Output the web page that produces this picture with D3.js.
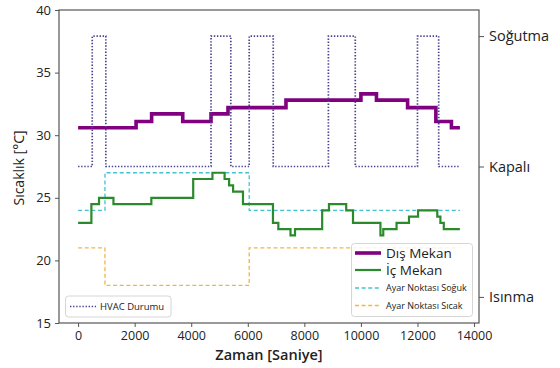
<!DOCTYPE html>
<html>
<head>
<meta charset="utf-8">
<script src="https://cdn.jsdelivr.net/npm/d3@7"></script>
<style>
  html, body { margin: 0; padding: 0; background: #fff; }
  svg text { font-family: "Open Sans", "Noto Sans", sans-serif; fill: #222; }
</style>
</head>
<body>
<svg id="chart" width="560" height="368"></svg>
<script>
// Step series: each value holds from its time until the next time (seconds)
const outdoorTimes  = [0, 2050, 2600, 3700, 4700, 5300, 7350, 10000, 10550, 11650, 12650, 13200, 13500];
const outdoorTemps  = [30.6, 31.1, 31.7, 31.1, 31.7, 32.2, 32.8, 33.3, 32.8, 32.2, 31.1, 30.6, 30.6];

const indoorTimes   = [0, 470, 740, 1250, 2590, 4070, 4750, 5180, 5340, 5480, 5830, 6890, 7080, 7510, 7670,
                       8630, 8870, 9480, 9720, 10690, 10790, 11260, 11700, 12020, 12700, 12810, 12930, 13500];
const indoorTemps   = [23.0, 24.5, 25.0, 24.5, 25.0, 26.5, 27.0, 26.5, 26.0, 25.5, 24.5, 23.0, 22.5, 22.0, 22.5,
                       24.0, 24.5, 24.0, 23.0, 22.0, 22.5, 23.0, 23.5, 24.0, 23.5, 23.0, 22.5, 22.5];

const coolSetTimes  = [0, 950, 6050, 13500];
const coolSetTemps  = [24, 27, 24, 24];
const heatSetTimes  = [0, 950, 6050, 13500];
const heatSetTemps  = [21, 18, 21, 21];

// HVAC mode: 0 = Kapalı, 1 = Soğutma, -1 = Isınma
const hvacTimes     = [0, 500, 980, 4700, 5400, 6050, 6900, 8850, 9800, 12000, 12750, 13500];
const hvacModes     = [0, 1, 0, 1, 0, 1, 0, 1, 0, 1, 0, 0];

const xTicks        = [0, 2000, 4000, 6000, 8000, 10000, 12000, 14000];
const yTicks        = [15, 20, 25, 30, 35, 40];
const modeTicks     = [-1, 0, 1];
const modeLabels    = ["Isınma", "Kapalı", "Soğutma"];

const legendMain    = ["Dış Mekan", "İç Mekan", "Ayar Noktası Soğuk", "Ayar Noktası Sıcak"];
const legendHvac    = "HVAC Durumu";
const xLabel        = "Zaman [Saniye]";
const yLabel        = "Sıcaklık [°C]";

const colors = { outdoor: "#800080", indoor: "#2b8a2b", cool: "#45c1d2", heat: "#f3b640", hvac: "#4a4290", axis: "#555" };

const svg = d3.select("#chart");
const plot = { left: 59, right: 479, top: 10, bottom: 323 };

const x = d3.scaleLinear().domain([-675, 14175]).range([plot.left, plot.right]);
const y = d3.scaleLinear().domain([15, 40]).range([plot.bottom, plot.top]);
const yMode = d3.scaleLinear().domain([-1.2, 1.2]).range([plot.bottom, plot.top]);

const zip = (ts, vs) => ts.map((t, i) => [t, vs[i]]);
const stepLine = (ys) => d3.line().x(d => x(d[0])).y(d => ys(d[1])).curve(d3.curveStepAfter);

// Series
const g = svg.append("g");
g.append("path").datum(zip(coolSetTimes, coolSetTemps))
  .attr("d", stepLine(y)).attr("fill", "none")
  .attr("stroke", colors.cool).attr("stroke-width", 1.3).attr("stroke-dasharray", "4,2.6");
g.append("path").datum(zip(heatSetTimes, heatSetTemps))
  .attr("d", stepLine(y)).attr("fill", "none")
  .attr("stroke", colors.heat).attr("stroke-width", 1.3).attr("stroke-dasharray", "4,2.6");
g.append("path").datum(zip(indoorTimes, indoorTemps))
  .attr("d", stepLine(y)).attr("fill", "none")
  .attr("stroke", colors.indoor).attr("stroke-width", 2.2);
g.append("path").datum(zip(outdoorTimes, outdoorTemps))
  .attr("d", stepLine(y)).attr("fill", "none")
  .attr("stroke", colors.outdoor).attr("stroke-width", 3.6);
g.append("path").datum(zip(hvacTimes, hvacModes))
  .attr("d", stepLine(yMode)).attr("fill", "none")
  .attr("stroke", colors.hvac).attr("stroke-width", 1.7).attr("stroke-dasharray", "1.4,1.7");

// Frame
svg.append("rect")
  .attr("x", plot.left).attr("y", plot.top)
  .attr("width", plot.right - plot.left).attr("height", plot.bottom - plot.top)
  .attr("fill", "none").attr("stroke", colors.axis).attr("stroke-width", 1.2);

// Axes
const styleAxis = (sel) => {
  sel.select(".domain").remove();
  sel.selectAll(".tick line").attr("stroke", colors.axis).attr("stroke-width", 1);
  sel.selectAll(".tick text").attr("fill", "#333").style("font-family", "'Open Sans', sans-serif");
};
svg.append("g").attr("transform", `translate(0,${plot.bottom})`)
  .call(d3.axisBottom(x).tickValues(xTicks).tickFormat(d3.format("d")).tickSize(4).tickPadding(4))
  .call(styleAxis).selectAll("text").style("font-size", "12.5px");
svg.append("g").attr("transform", `translate(${plot.left},0)`)
  .call(d3.axisLeft(y).tickValues(yTicks).tickFormat(d3.format("d")).tickSize(4).tickPadding(4))
  .call(styleAxis).selectAll("text").style("font-size", "13px");
svg.append("g").attr("transform", `translate(${plot.right},0)`)
  .call(d3.axisRight(yMode).tickValues(modeTicks).tickFormat((d, i) => modeLabels[i]).tickSize(5).tickPadding(5))
  .call(styleAxis).selectAll("text").style("font-size", "14.5px");

// Axis titles
svg.append("text").attr("x", (plot.left + plot.right) / 2).attr("y", 360)
  .attr("text-anchor", "middle").style("font-size", "14.5px").style("font-weight", 600).text(xLabel);
svg.append("text").attr("transform", "translate(24,168) rotate(-90)")
  .attr("text-anchor", "middle").style("font-size", "14px").text(yLabel);

// Legend: temperatures
const leg = svg.append("g");
leg.append("rect").attr("x", 351.5).attr("y", 243.5).attr("width", 121).attr("height", 73)
  .attr("rx", 3).attr("fill", "#fff").attr("fill-opacity", 0.82).attr("stroke", "#d6d6d6");
const legItems = [
  { label: legendMain[0], color: colors.outdoor, w: 3.6, dash: null, size: 13.5, yy: 253 },
  { label: legendMain[1], color: colors.indoor, w: 2.2, dash: null, size: 13.5, yy: 270 },
  { label: legendMain[2], color: colors.cool, w: 1.3, dash: "4,2.6", size: 9, yy: 288 },
  { label: legendMain[3], color: colors.heat, w: 1.3, dash: "4,2.6", size: 9, yy: 305.5 }
];
legItems.forEach(it => {
  leg.append("line").attr("x1", 355).attr("x2", 381).attr("y1", it.yy).attr("y2", it.yy)
    .attr("stroke", it.color).attr("stroke-width", it.w).attr("stroke-dasharray", it.dash);
  leg.append("text").attr("x", 386).attr("y", it.yy).attr("dy", "0.35em")
    .style("font-size", it.size + "px").text(it.label);
});

// Legend: HVAC state
const leg2 = svg.append("g");
leg2.append("rect").attr("x", 65.5).attr("y", 296).attr("width", 105.5).attr("height", 21)
  .attr("rx", 3).attr("fill", "#fff").attr("fill-opacity", 0.82).attr("stroke", "#d6d6d6");
leg2.append("line").attr("x1", 70).attr("x2", 96).attr("y1", 306.5).attr("y2", 306.5)
  .attr("stroke", colors.hvac).attr("stroke-width", 1.7).attr("stroke-dasharray", "1.4,1.7");
leg2.append("text").attr("x", 100).attr("y", 306.5).attr("dy", "0.35em")
  .style("font-size", "9.5px").text(legendHvac);
</script>
</body>
</html>
